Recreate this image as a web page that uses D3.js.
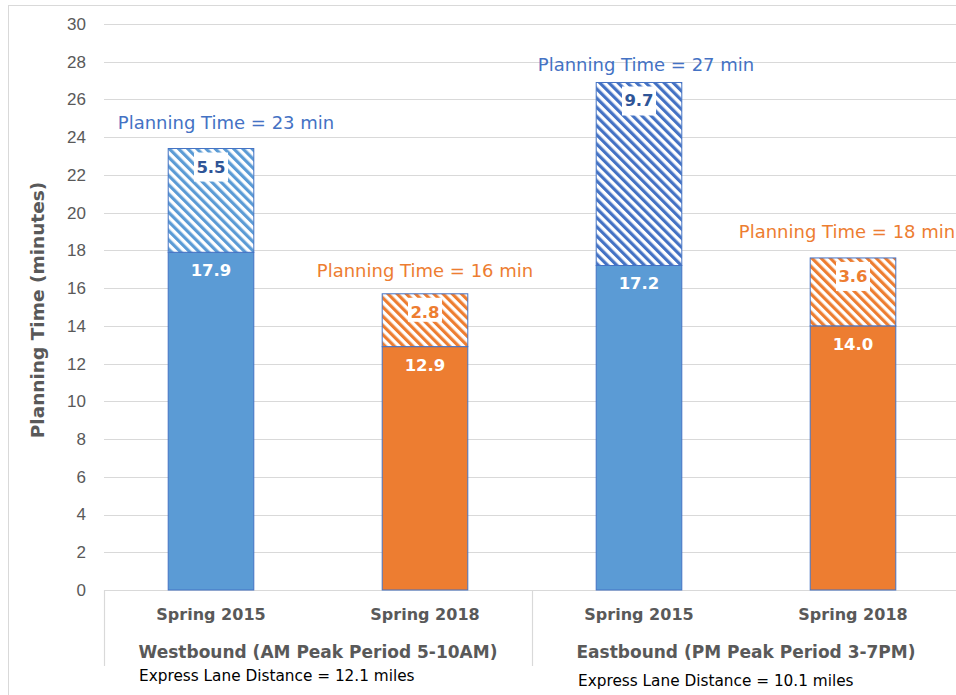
<!DOCTYPE html>
<html>
<head>
<meta charset="utf-8">
<script src="https://cdn.jsdelivr.net/npm/d3@7/dist/d3.min.js"></script>
<style>
  body { margin: 0; background: #fff; }
  svg { display: block; font-family: "DejaVu Sans", sans-serif; }
</style>
</head>
<body>
<script>
// chart values
const ids = ['wb2015', 'wb2018', 'eb2015', 'eb2018'];
const periods = ['Spring 2015', 'Spring 2018', 'Spring 2015', 'Spring 2018'];
const groups = ['Westbound (AM Peak Period 5-10AM)', 'Eastbound (PM Peak Period 3-7PM)'];
const distances = ['Express Lane Distance = 12.1 miles', 'Express Lane Distance = 10.1 miles'];
const travelTime = [17.9, 12.9, 17.2, 14.0];
const bufferTime = [5.5, 2.8, 9.7, 3.6];
const planningTime = [23, 16, 27, 18];
const yTicks = [0, 2, 4, 6, 8, 10, 12, 14, 16, 18, 20, 22, 24, 26, 28, 30];

const width = 956, height = 695;
const margin = { top: 24, left: 104, bottom: 105, right: -4 };

const solidFill = ['#5b9bd5', '#ed7d31', '#5b9bd5', '#ed7d31'];
const hatchColor = ['#5b9bd5', '#ed7d31', '#4472c4', '#ed7d31'];
const labelColor = ['#2f5597', '#ed7d31', '#2f5597', '#ed7d31'];
const titleColor = ['#4472c4', '#ed7d31', '#4472c4', '#ed7d31'];
const titleNudge = [15, 0, 7, -6];
const titleLift = [20, 17, 11, 20];

const svg = d3.select('body')
  .append('svg')
  .attr('width', width)
  .attr('height', height);

// outer frame
svg.append('rect')
  .attr('x', 8.5).attr('y', 5.5)
  .attr('width', width + 20).attr('height', height + 20)
  .attr('fill', 'none')
  .attr('stroke', '#d9d9d9');

const defs = svg.append('defs');
hatchColor.forEach((c, i) => {
  const p = defs.append('pattern')
    .attr('id', 'hatch' + i)
    .attr('patternUnits', 'userSpaceOnUse')
    .attr('width', 6.5).attr('height', 6.5)
    .attr('patternTransform', 'rotate(-45)');
  p.append('rect').attr('width', 6.5).attr('height', 6.5).attr('fill', '#fff');
  p.append('rect').attr('width', 3.2).attr('height', 6.5).attr('fill', c);
});

const x = d3.scaleBand()
  .domain(ids)
  .range([margin.left, width - margin.right])
  .paddingInner(0.6)
  .paddingOuter(0.3);

const y = d3.scaleLinear()
  .domain([0, 30])
  .range([height - margin.bottom, margin.top]);

// gridlines
svg.append('g')
  .selectAll('line')
  .data(yTicks)
  .join('line')
  .attr('x1', margin.left).attr('x2', width - margin.right)
  .attr('y1', d => Math.round(y(d)) + 0.5)
  .attr('y2', d => Math.round(y(d)) + 0.5)
  .attr('stroke', '#d9d9d9')
  .attr('stroke-width', 1.2);

// y axis labels
const yAxis = d3.axisLeft(y).tickValues(yTicks).tickSize(0).tickPadding(18);
const yg = svg.append('g')
  .attr('transform', `translate(${margin.left}, 0)`)
  .call(yAxis);
yg.select('.domain').remove();
yg.selectAll('text')
  .attr('fill', '#595959')
  .style('font-size', '17px');

// y title
svg.append('text')
  .attr('transform', `translate(44, ${y(15) + 3}) rotate(-90)`)
  .attr('text-anchor', 'middle')
  .attr('fill', '#595959')
  .style('font-size', '18.5px')
  .style('font-weight', 'bold')
  .text('Planning Time (minutes)');

// bars
const bars = svg.append('g')
  .selectAll('g')
  .data(ids)
  .join('g');

bars.append('rect')
  .attr('x', d => x(d))
  .attr('width', x.bandwidth())
  .attr('y', (d, i) => y(travelTime[i]))
  .attr('height', (d, i) => y(0) - y(travelTime[i]))
  .attr('fill', (d, i) => solidFill[i])
  .attr('stroke', '#4472c4')
  .attr('stroke-width', 1);

bars.append('rect')
  .attr('x', d => x(d))
  .attr('width', x.bandwidth())
  .attr('y', (d, i) => y(travelTime[i] + bufferTime[i]))
  .attr('height', (d, i) => y(travelTime[i]) - y(travelTime[i] + bufferTime[i]))
  .attr('fill', (d, i) => `url(#hatch${i})`)
  .attr('stroke', '#4472c4')
  .attr('stroke-width', 1);

// solid value labels
bars.append('text')
  .attr('x', d => x(d) + x.bandwidth() / 2)
  .attr('y', (d, i) => y(travelTime[i]) + 24)
  .attr('text-anchor', 'middle')
  .attr('fill', '#fff')
  .style('font-size', '16.5px')
  .style('font-weight', 'bold')
  .text((d, i) => travelTime[i].toFixed(1));

// buffer value labels on white boxes
bars.append('rect')
  .attr('x', d => x(d) + x.bandwidth() / 2 - 17)
  .attr('y', (d, i) => y(travelTime[i] + bufferTime[i]) + 4)
  .attr('width', 34)
  .attr('height', (d, i) => bufferTime[i] < 3 ? 24 : 29)
  .attr('fill', '#fff');

bars.append('text')
  .attr('x', d => x(d) + x.bandwidth() / 2)
  .attr('y', (d, i) => y(travelTime[i] + bufferTime[i]) + 24)
  .attr('text-anchor', 'middle')
  .attr('fill', (d, i) => labelColor[i])
  .style('font-size', '16.5px')
  .style('font-weight', 'bold')
  .text((d, i) => bufferTime[i].toFixed(1));

// planning time titles
bars.append('text')
  .attr('x', (d, i) => x(d) + x.bandwidth() / 2 + titleNudge[i])
  .attr('y', (d, i) => y(travelTime[i] + bufferTime[i]) - titleLift[i])
  .attr('text-anchor', 'middle')
  .attr('fill', (d, i) => titleColor[i])
  .style('font-size', '18px')
  .text((d, i) => `Planning Time = ${planningTime[i]} min`);

// category axis
const xg = svg.append('g');
xg.selectAll('text.period')
  .data(ids)
  .join('text')
  .attr('class', 'period')
  .attr('x', d => x(d) + x.bandwidth() / 2)
  .attr('y', y(0) + 30)
  .attr('text-anchor', 'middle')
  .attr('fill', '#595959')
  .style('font-size', '16px')
  .style('font-weight', 'bold')
  .text((d, i) => periods[i]);

const step = x.step();
const groupEdges = [margin.left, margin.left + 2 * step, margin.left + 4 * step];
xg.selectAll('line.sep')
  .data(groupEdges)
  .join('line')
  .attr('class', 'sep')
  .attr('x1', d => Math.round(d) + 0.5).attr('x2', d => Math.round(d) + 0.5)
  .attr('y1', y(0)).attr('y2', y(0) + 76)
  .attr('stroke', '#d9d9d9')
  .attr('stroke-width', 1.2);

xg.selectAll('text.group')
  .data(groups)
  .join('text')
  .attr('class', 'group')
  .attr('x', (d, i) => margin.left + (2 * i + 1) * step)
  .attr('y', y(0) + 68)
  .attr('text-anchor', 'middle')
  .attr('fill', '#595959')
  .style('font-size', '17px')
  .style('font-weight', 'bold')
  .text(d => d);

// distance notes
svg.selectAll('text.dist')
  .data(distances)
  .join('text')
  .attr('class', 'dist')
  .attr('x', (d, i) => margin.left + 35 + i * (2 * step + 11))
  .attr('y', (d, i) => y(0) + 91 + i * 5)
  .attr('fill', '#000')
  .style('font-size', '15.3px')
  .text(d => d);
</script>
</body>
</html>
